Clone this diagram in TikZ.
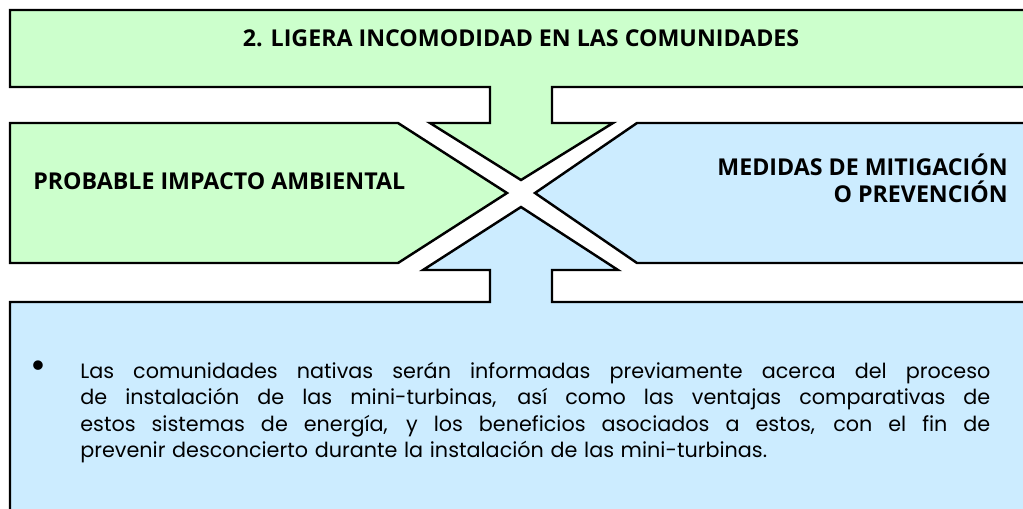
\documentclass[tikz,border=0pt]{standalone}
\usepackage{fontspec}
\setmainfont{Poppins}[WordSpace=1.2]
\newfontfamily\headfont{Open Sans}
\definecolor{impG}{RGB}{204,255,204}
\definecolor{medB}{RGB}{204,236,255}

\begin{document}
\begin{tikzpicture}[x=0.2mm,y=-0.2mm,line join=miter,
  panel/.style={draw=black,line width=1.4pt},
  head/.style={font=\headfont\bfseries\fontsize{13.2}{15.3}\selectfont,inner sep=0pt},
  body/.style={font=\fontsize{11.8}{15.1}\selectfont,inner sep=0pt,text width=182mm,align=justify}]
\useasboundingbox (0,0) rectangle (1023,508);
\clip (0,0) rectangle (1023,508);
\fill[white] (0,0) rectangle (1023,508);
% upper green part
\draw[panel,fill=impG] (10,10)--(1040,10)--(1040,87)--(552,87)--(552,123)--(613,123)--(521,180)
  --(430,123)--(490,123)--(490,87)--(10,87)--cycle;
\draw[panel,fill=impG] (10,123)--(398,123)--(507,193)--(398,263)--(10,263)--cycle;
% right and lower blue parts
\draw[panel,fill=medB] (1040,123)--(637,123)--(535,193)--(637,263)--(1040,263)--cycle;
\draw[panel,fill=medB] (10,530)--(10,302)--(490,302)--(490,270)--(423,270)--(521,207)
  --(618,270)--(552,270)--(552,302)--(1040,302)--(1040,530);
\node[head,anchor=base] (tit) at (521,46) {2. LIGERA INCOMODIDAD EN LAS COMUNIDADES};
\node[head,anchor=base west] (imp) at (33,189) {PROBABLE IMPACTO AMBIENTAL};
\node[head,anchor=base east,align=right] (med) at (1008,202) {MEDIDAS DE MITIGACIÓN\\O PREVENCIÓN};
\node[font=\fontsize{22}{22}\selectfont,inner sep=0pt] (dot) at (38,370) {\textbullet};
\node[body,anchor=base west] (txt) at (80,378) {Las comunidades nativas serán informadas previamente acerca del proceso\linebreak
de instalación de las mini-turbinas, así como las ventajas comparativas de\linebreak
estos sistemas de energía, y los beneficios asociados a estos, con el fin de\linebreak
prevenir desconcierto durante la instalación de las mini-turbinas.};
\end{tikzpicture}
\end{document}
